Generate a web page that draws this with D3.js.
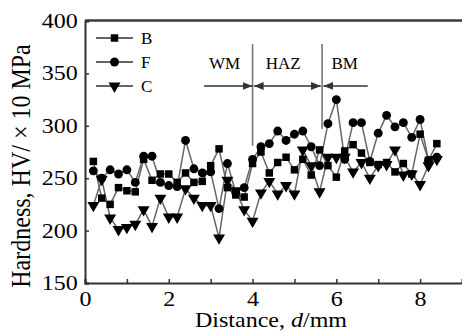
<!DOCTYPE html>
<html>
<head>
<meta charset="utf-8">
<script src="https://cdn.jsdelivr.net/npm/d3@7"></script>
<style>
  body { margin: 0; background: #fff; }
  svg text { font-family: "Liberation Serif", "Times New Roman", serif; fill: #000; }
</style>
</head>
<body>
<svg id="chart" width="462" height="332"></svg>
<script>
// measured positions along the sample, mm
const distance = [0.2, 0.4, 0.6, 0.8, 1.0, 1.2, 1.4, 1.6, 1.8, 2.0, 2.2, 2.4, 2.6, 2.8,
  3.0, 3.2, 3.4, 3.6, 3.8, 4.0, 4.2, 4.4, 4.6, 4.8, 5.0, 5.2, 5.4, 5.6, 5.8, 6.0,
  6.2, 6.4, 6.6, 6.8, 7.0, 7.2, 7.4, 7.6, 7.8, 8.0, 8.2, 8.4];
const hardB = [266, 231, 225, 241, 238, 237, 268, 248, 254, 254, 246, 255, 246, 247,
  262, 278, 241, 234, 232, 264, 275, 255, 265, 270, 258, 268, 253, 277, 262, 251,
  276, 282, 274, 265, 263, 265, 256, 264, 254, 292, 267, 283];
const hardF = [257, 250, 258, 254, 258, 246, 271, 271, 246, 243, 242, 286, 259, 255,
  256, 221, 264, 236, 241, 268, 280, 283, 295, 286, 292, 295, 280, 262, 302, 325,
  268, 303, 303, 266, 293, 310, 299, 303, 289, 306, 267, 270];
const hardC = [224, 249, 212, 201, 203, 206, 220, 204, 231, 213, 213, 240, 231, 224,
  224, 193, 248, 238, 220, 209, 236, 247, 235, 243, 235, 277, 262, 237, 270, 270,
  270, 256, 265, 250, 262, 263, 277, 253, 254, 244, 262, 268];
const seriesNames = ["B", "F", "C"];
const xTicks = [0, 1, 2, 3, 4, 5, 6, 7, 8];
const yTicks = [150, 200, 250, 300, 350, 400];
// zone boundaries (mm) and labels
const zoneEdges = [4.0, 5.66];
const zoneLabels = [
  {text: "WM", x: 3.33},
  {text: "HAZ", x: 4.73},
  {text: "BM", x: 6.2}
];

const svg = d3.select("#chart");
const x = d3.scaleLinear().domain([0, 9]).range([85, 462]);
const y = d3.scaleLinear().domain([150, 400]).range([283, 21]);
const stretch = 1.2;

const series = seriesNames.map((name, i) => ({
  name: name,
  values: [hardB, hardF, hardC][i].map((v, j) => ({d: distance[j], v: v}))
}));
const symbols = {B: d3.symbolSquare, F: d3.symbolCircle, C: d3.symbolTriangle};
const symSize = {B: 56, F: 62, C: 62};

// frame
svg.append("line").attr("x1", 85).attr("x2", 462).attr("y1", 20.5).attr("y2", 20.5)
  .attr("stroke", "#3a3a3a").attr("stroke-width", 2.5);

const xAxis = d3.axisBottom(x).tickValues(xTicks).tickSize(-4).tickPadding(7)
  .tickFormat(d => d % 2 === 0 ? d : "");
const gx = svg.append("g").attr("transform", "translate(0,283)").call(xAxis);
gx.select(".domain").attr("stroke", "#333").attr("stroke-width", 2);
gx.selectAll(".tick line").attr("stroke", "#333").attr("stroke-width", 1.5);
gx.selectAll(".tick text").attr("font-size", 20).attr("font-family", "Liberation Serif")
  .attr("fill", "#000").attr("transform", `scale(${stretch},1)`).attr("dy", "0.78em");

const yAxis = d3.axisLeft(y).tickValues(yTicks).tickSize(-4).tickPadding(6);
const gy = svg.append("g").attr("transform", "translate(85,0)").call(yAxis);
gy.select(".domain").attr("stroke", "#333").attr("stroke-width", 2);
gy.selectAll(".tick line").attr("stroke", "#333").attr("stroke-width", 1.5);
gy.selectAll(".tick text").attr("font-size", 20).attr("font-family", "Liberation Serif")
  .attr("fill", "#000").attr("transform", `scale(${stretch},1)`);

// axis titles
svg.append("text").attr("transform", `translate(271,327) scale(${stretch},1)`)
  .attr("text-anchor", "middle").attr("font-size", 20)
  .html('Distance, <tspan font-style="italic">d</tspan>/mm');
svg.append("text").attr("transform", "translate(30,166) rotate(-90) scale(1,1.15)")
  .attr("text-anchor", "middle").attr("font-size", 24)
  .text("Hardness, HV/ × 10 MPa");

// zone annotations
svg.selectAll(".edge").data(zoneEdges).enter().append("line")
  .attr("x1", d => x(d)).attr("x2", d => x(d))
  .attr("y1", y(378)).attr("y2", (d, i) => i === 0 ? y(281) : y(297))
  .attr("stroke", "#777").attr("stroke-width", 1.6);

const defs = svg.append("defs");
defs.append("marker").attr("id", "ah").attr("viewBox", "0 0 10 10")
  .attr("refX", 10).attr("refY", 5).attr("markerWidth", 7).attr("markerHeight", 7)
  .attr("orient", "auto-start-reverse")
  .append("path").attr("d", "M0,1 L10,5 L0,9 Z").attr("fill", "#333");

const arrowY = y(338);
const arrows = [
  {from: 2.84, to: zoneEdges[0], start: false, end: true},
  {from: zoneEdges[0] + 0.03, to: zoneEdges[1] - 0.03, start: true, end: true},
  {from: zoneEdges[1] + 0.03, to: 6.75, start: true, end: false}
];
svg.selectAll(".arrow").data(arrows).enter().append("line")
  .attr("x1", d => x(d.from)).attr("x2", d => x(d.to))
  .attr("y1", arrowY).attr("y2", arrowY)
  .attr("stroke", "#333").attr("stroke-width", 1.4)
  .attr("marker-start", d => d.start ? "url(#ah)" : null)
  .attr("marker-end", d => d.end ? "url(#ah)" : null);

svg.selectAll(".zone").data(zoneLabels).enter().append("text")
  .attr("x", d => x(d.x)).attr("y", 69).attr("text-anchor", "middle")
  .attr("font-size", 17).text(d => d.text);

// series
const line = d3.line().x(d => x(d.d)).y(d => y(d.v));
series.forEach(s => {
  svg.append("path").datum(s.values).attr("d", line)
    .attr("fill", "none").attr("stroke", "#666").attr("stroke-width", 1.5);
});
series.forEach(s => {
  const sym = d3.symbol().type(symbols[s.name]).size(symSize[s.name]);
  svg.append("g").selectAll("path").data(s.values).enter().append("path")
    .attr("d", sym)
    .attr("transform", d => `translate(${x(d.d)},${y(d.v)})` + (s.name === "C" ? " rotate(180)" : ""))
    .attr("fill", "#000");
});

// legend
const legend = svg.append("g").attr("transform", "translate(96,38)");
seriesNames.forEach((name, i) => {
  const row = legend.append("g").attr("transform", `translate(0,${i * 24})`);
  row.append("line").attr("x1", 0).attr("x2", 37).attr("stroke", "#333").attr("stroke-width", 1.5);
  row.append("path").attr("d", d3.symbol().type(symbols[name]).size(symSize[name])())
    .attr("transform", `translate(18.5,0)` + (name === "C" ? " rotate(180)" : ""))
    .attr("fill", "#000");
  row.append("text").attr("x", 45).attr("y", 6).attr("font-size", 17).text(name);
});
</script>
</body>
</html>
